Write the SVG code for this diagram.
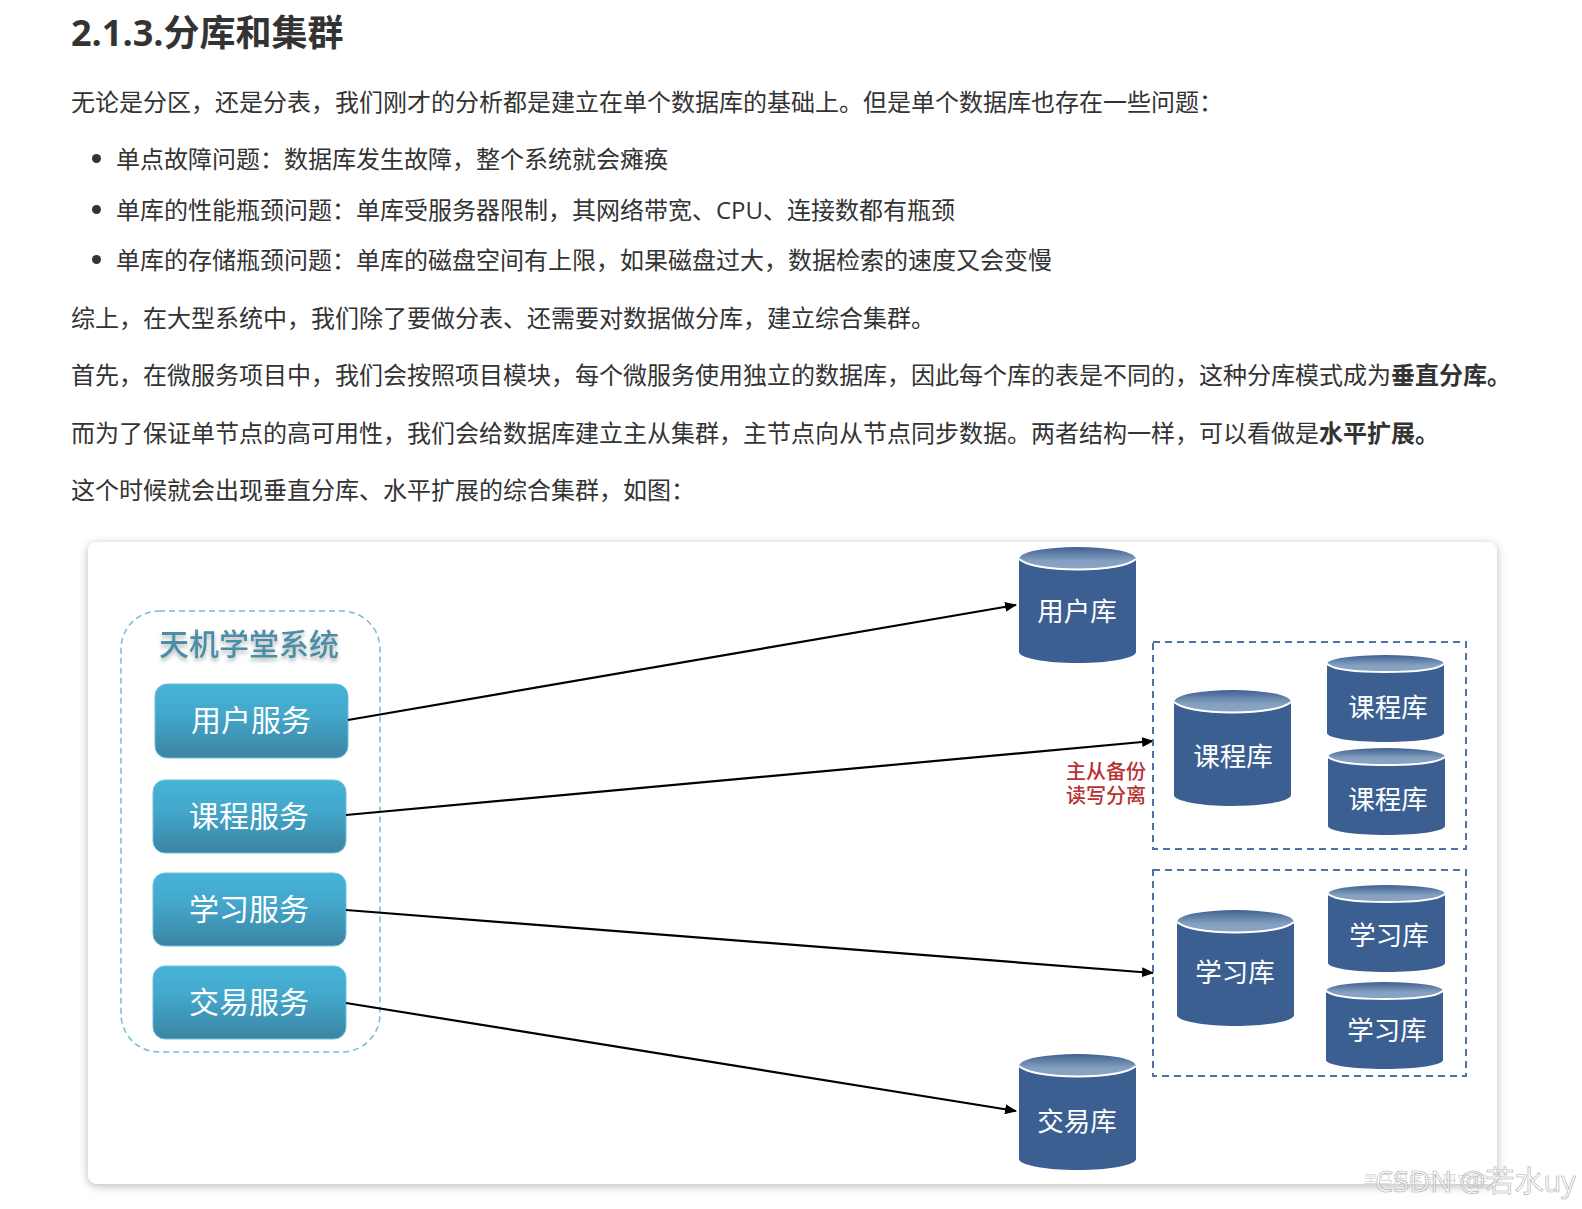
<svg xmlns="http://www.w3.org/2000/svg" width="1582" height="1209" viewBox="0 0 1582 1209">
<style>
text{font-family:"Open Sans","Noto Sans CJK SC",sans-serif}
.h{font-size:36px;font-weight:700;fill:#333}
.p{font-size:24px;fill:#333}
.svc{font-size:30px;fill:#fff;text-anchor:middle}
.db{font-size:26.500px;fill:#fff;text-anchor:middle}
.btn{fill:url(#bg);stroke:#6cc0dc;stroke-width:1}
.conn{stroke:#000;stroke-width:2.200;fill:none;marker-end:url(#arr)}
.dash{fill:none;stroke:#4f72a6;stroke-width:2;stroke-dasharray:7 5}
</style>
<defs>
<linearGradient id="bg" x1="0" y1="0" x2="0" y2="1"><stop offset="0" stop-color="#47b3d8"/><stop offset="0.4" stop-color="#43a8cc"/><stop offset="1" stop-color="#3b84a3"/></linearGradient>
<linearGradient id="top" x1="0" y1="0" x2="0" y2="1"><stop offset="0" stop-color="#3f6090"/><stop offset="0.6" stop-color="#84a0c0"/><stop offset="1" stop-color="#8ba5c4"/></linearGradient>
<filter id="card" x="-3%" y="-3%" width="106%" height="106%"><feDropShadow dx="0" dy="2" stdDeviation="5" flood-color="#000" flood-opacity="0.28"/></filter>
<filter id="ts" x="-10%" y="-20%" width="120%" height="150%"><feDropShadow dx="0" dy="3" stdDeviation="2" flood-color="#000" flood-opacity="0.3"/></filter>
<marker id="arr" markerWidth="12" markerHeight="10" refX="11" refY="5" orient="auto" markerUnits="userSpaceOnUse"><path d="M0 0L12 5L0 10z" fill="#000"/></marker>
<symbol id="cylL" viewBox="0 0 117 116" width="117" height="116"><path d="M0 11V105C0 111 26 116 58.500 116S117 111 117 105V11z" fill="#3c5f92"/><ellipse cx="58.500" cy="11.500" rx="58" ry="11.500" fill="url(#top)"/><path d="M0 12C6 18 28 22.500 58.500 22.500S111 18 117 12" fill="none" stroke="#fff" stroke-width="2"/></symbol>
<symbol id="cylS" viewBox="0 0 117 87" width="117" height="87"><path d="M0 9V78C0 83 26 87 58.500 87S117 83 117 78V9z" fill="#3c5f92"/><ellipse cx="58.500" cy="8.500" rx="58" ry="8.500" fill="url(#top)"/><path d="M0 9C6 14 28 17 58.500 17S111 14 117 9" fill="none" stroke="#fff" stroke-width="2"/></symbol>
</defs>
<rect width="1582" height="1209" fill="#fff"/>
<g id="article">
<text class="h" x="71" y="46">2.1.3.分库和集群</text>
<text class="p" x="71" y="111">无论是分区，还是分表，我们刚才的分析都是建立在单个数据库的基础上。但是单个数据库也存在一些问题：</text>
<circle cx="96.500" cy="158.500" r="4.500" fill="#333"/><text class="p" x="116" y="168">单点故障问题：数据库发生故障，整个系统就会瘫痪</text>
<circle cx="96.500" cy="209.500" r="4.500" fill="#333"/><text class="p" x="116" y="219">单库的性能瓶颈问题：单库受服务器限制，其网络带宽、CPU、连接数都有瓶颈</text>
<circle cx="96.500" cy="259.500" r="4.500" fill="#333"/><text class="p" x="116" y="269">单库的存储瓶颈问题：单库的磁盘空间有上限，如果磁盘过大，数据检索的速度又会变慢</text>
<text class="p" x="71" y="327">综上，在大型系统中，我们除了要做分表、还需要对数据做分库，建立综合集群。</text>
<text class="p" x="71" y="384">首先，在微服务项目中，我们会按照项目模块，每个微服务使用独立的数据库，因此每个库的表是不同的，这种分库模式成为<tspan font-weight="700">垂直分库。</tspan></text>
<text class="p" x="71" y="442">而为了保证单节点的高可用性，我们会给数据库建立主从集群，主节点向从节点同步数据。两者结构一样，可以看做是<tspan font-weight="700">水平扩展。</tspan></text>
<text class="p" x="71" y="499">这个时候就会出现垂直分库、水平扩展的综合集群，如图：</text>
</g>
<rect id="card-bg" x="88" y="542" width="1409" height="642" rx="9" fill="#fff" filter="url(#card)"/>
<g id="system">
<rect x="121" y="611" width="259" height="441" rx="38" fill="none" stroke="#74bcd8" stroke-width="1.500" stroke-dasharray="6 4"/>
<text x="249" y="655" font-size="30" font-weight="500" fill="#4a8ea6" text-anchor="middle" filter="url(#ts)">天机学堂系统</text>
</g>
<g id="svc-user"><rect class="btn" x="155" y="684" width="193" height="74" rx="12"/><text class="svc" x="251" y="731">用户服务</text></g>
<g id="svc-course"><rect class="btn" x="153" y="780" width="193" height="73" rx="12"/><text class="svc" x="249" y="827">课程服务</text></g>
<g id="svc-study"><rect class="btn" x="153" y="873" width="193" height="73" rx="12"/><text class="svc" x="249" y="920">学习服务</text></g>
<g id="svc-trade"><rect class="btn" x="153" y="966" width="193" height="73" rx="12"/><text class="svc" x="249" y="1013">交易服务</text></g>
<g id="connectors">
<line class="conn" x1="348" y1="720" x2="1016" y2="605"/>
<line class="conn" x1="346" y1="815" x2="1153" y2="741"/>
<line class="conn" x1="346" y1="910" x2="1153" y2="973"/>
<line class="conn" x1="346" y1="1003" x2="1016" y2="1111"/>
</g>
<g id="db-user"><use href="#cylL" x="1019" y="547"/><text class="db" x="1077" y="621">用户库</text></g>
<g id="cluster-course"><rect class="dash" x="1153" y="642" width="313" height="207"/></g>
<g id="db-course-m"><use href="#cylL" x="1174" y="690"/><text class="db" x="1233" y="766">课程库</text></g>
<g id="db-course-s1"><use href="#cylS" x="1327" y="655"/><text class="db" x="1388" y="717">课程库</text></g>
<g id="db-course-s2"><use href="#cylS" x="1328" y="748"/><text class="db" x="1388" y="809">课程库</text></g>
<g id="label"><text font-size="20" fill="#b83232" text-anchor="end" font-weight="500"><tspan x="1146" y="779">主从备份</tspan><tspan x="1146" y="803">读写分离</tspan></text></g>
<g id="cluster-study"><rect class="dash" x="1153" y="870" width="313" height="206"/></g>
<g id="db-study-m"><use href="#cylL" x="1177" y="910"/><text class="db" x="1235" y="982">学习库</text></g>
<g id="db-study-s1"><use href="#cylS" x="1328" y="885"/><text class="db" x="1389" y="945">学习库</text></g>
<g id="db-study-s2"><use href="#cylS" x="1326" y="982"/><text class="db" x="1387" y="1040">学习库</text></g>
<g id="db-trade"><use href="#cylL" x="1019" y="1054"/><text class="db" x="1077" y="1131">交易库</text></g>
<g id="watermark">
<text x="1363" y="1186" font-size="15" fill="#ddd" font-family="Noto Sans CJK SC,serif">黑马程序员·研究院</text>
<text x="1375" y="1192" font-size="29" fill="#fff" fill-opacity="0.6" stroke="#aaa" stroke-width="0.600" font-family="Liberation Sans,Noto Sans CJK SC,sans-serif">CSDN @若水uy</text>
</g>
</svg>
